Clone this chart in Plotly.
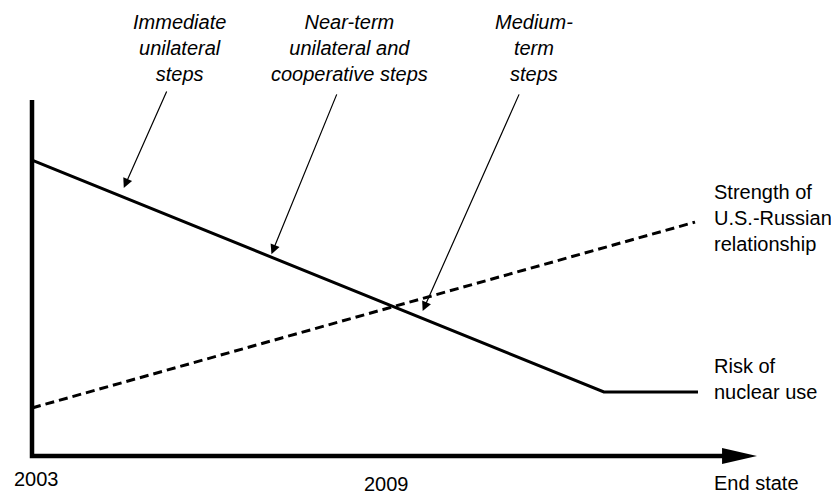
import plotly.graph_objects as go

# ---- data (conceptual levels, 0-100 scale; x in years) ----
risk_years = [2003, 2012.72, 2014.32]
risk_level = [83.1, 18.0, 18.0]

rel_years = [2003, 2014.27]
rel_level = [13.5, 65.7]

tick_years = [2003, 2009]
tick_labels = ["2003", "2009"]
end_label = "End state"

step_labels = [
    "<i>Immediate<br>unilateral<br>steps</i>",
    "<i>Near-term<br>unilateral and<br>cooperative steps</i>",
    "<i>Medium-<br>term<br>steps</i>",
]
# label centres (year, level), arrow tails and arrow tips (year, level)
step_label_pos = [(2005.50, 114.6), (2008.39, 114.6), (2011.53, 114.6)]
step_arrow_tail = [(2005.30, 102.8), (2008.19, 102.0), (2011.29, 102.0)]
step_arrow_tip = [(2004.56, 75.3), (2007.07, 56.7), (2009.64, 40.7)]

# ---- mapping between reference pixels and data space ----
PX_PER_YEAR = 58.833
PX_PER_UNIT = 3.56
REF_X0, REF_Y0 = 32, 456          # where (2003, 0) sits in the window
PAGE_OFFSET = 8                   # default body margin of the html page
W, H = 839, 494


def px2x(p):
    return 2003 + (p - REF_X0) / PX_PER_YEAR


def py2y(p):
    return (REF_Y0 - p) / PX_PER_UNIT


x_range = [px2x(PAGE_OFFSET), px2x(PAGE_OFFSET + W)]
y_range = [py2y(PAGE_OFFSET + H), py2y(PAGE_OFFSET)]

axis_top = 100
arrow_base = px2x(725)
arrow_tip = px2x(757)
arrow_half = 8 / PX_PER_UNIT

FONT = "Liberation Sans, Arial, Helvetica, sans-serif"

fig = go.Figure()

# axes
fig.add_trace(go.Scatter(
    x=[2003, 2003, arrow_base], y=[axis_top, 0, 0], mode="lines",
    line=dict(color="black", width=4.5), hoverinfo="skip"))
fig.add_trace(go.Scatter(
    x=[arrow_base - 0.05, arrow_tip, arrow_base - 0.05, arrow_base - 0.05],
    y=[arrow_half, 0, -arrow_half, arrow_half],
    mode="lines", fill="toself", fillcolor="black",
    line=dict(color="black", width=0), hoverinfo="skip"))

# series
fig.add_trace(go.Scatter(
    x=risk_years, y=risk_level, mode="lines",
    line=dict(color="black", width=3), hoverinfo="skip"))
fig.add_trace(go.Scatter(
    x=rel_years, y=rel_level, mode="lines",
    line=dict(color="black", width=3, dash="9px,5px"), hoverinfo="skip"))

ann = []
# tick labels
ann.append(dict(x=px2x(36), y=py2y(479), text=tick_labels[0], showarrow=False,
                xanchor="center", yanchor="middle"))
ann.append(dict(x=tick_years[1] + 0.03, y=py2y(484), text=tick_labels[1],
                showarrow=False, xanchor="center", yanchor="middle"))
ann.append(dict(x=px2x(712), y=py2y(483), text=end_label,
                showarrow=False, xanchor="left", yanchor="middle"))

# series labels
ann.append(dict(x=px2x(712), y=py2y(218),
                text="Strength of<br>U.S.-Russian<br>relationship", showarrow=False,
                xanchor="left", yanchor="middle", align="left"))
ann.append(dict(x=px2x(712), y=py2y(379),
                text="Risk of<br>nuclear use", showarrow=False,
                xanchor="left", yanchor="middle", align="left"))

# step labels + arrows
for lab, (lx, ly), (tx, ty), (hx, hy) in zip(step_labels, step_label_pos,
                                             step_arrow_tail, step_arrow_tip):
    ann.append(dict(x=lx, y=ly, text=lab, showarrow=False,
                    xanchor="center", yanchor="middle", align="center"))
    ann.append(dict(x=hx, y=hy, ax=tx, ay=ty, axref="x", ayref="y", text="",
                    showarrow=True, arrowhead=2, arrowsize=1.6, arrowwidth=1.2,
                    arrowcolor="black"))

fig.update_layout(
    width=W, height=H, margin=dict(l=0, r=0, t=0, b=0),
    paper_bgcolor="white", plot_bgcolor="white", showlegend=False,
    font=dict(family=FONT, size=20, color="black"),
    xaxis=dict(range=x_range, visible=False, fixedrange=True),
    yaxis=dict(range=y_range, visible=False, fixedrange=True),
    annotations=ann,
)

fig.write_html("out.html")
